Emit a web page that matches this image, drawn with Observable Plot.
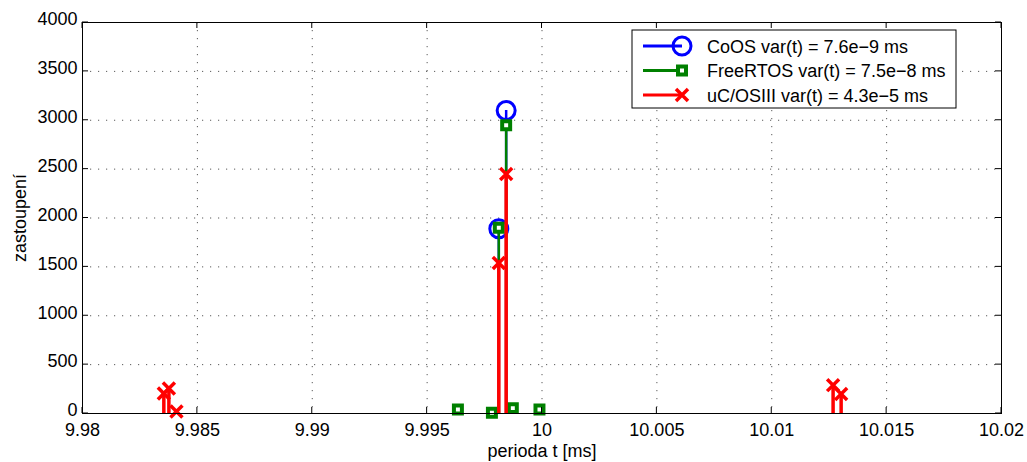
<!DOCTYPE html>
<html><head><meta charset="utf-8">
<script src="https://cdn.jsdelivr.net/npm/d3@7"></script>
<script src="https://cdn.jsdelivr.net/npm/@observablehq/plot@0.6"></script>
<style>
body{margin:0;background:#fff}
#chart svg{font-family:"Liberation Sans",Arial,Helvetica,sans-serif}
</style>
</head><body><div id="chart"></div>
<script>
// ---- data ----
const xTicks = [9.98, 9.985, 9.99, 9.995, 10, 10.005, 10.01, 10.015, 10.02];
const xTickLabels = ["9.98", "9.985", "9.99", "9.995", "10", "10.005", "10.01", "10.015", "10.02"];
const yTicks = [0, 500, 1000, 1500, 2000, 2500, 3000, 3500, 4000];

const coosPeriod = [9.99812, 9.99844];
const coosCount  = [1890, 3100];

const freePeriod = [9.99634, 9.99782, 9.99812, 9.99844, 9.99873, 9.99989];
const freeCount  = [40, 8, 1900, 2950, 55, 40];

const ucosPeriod = [9.98354, 9.98376, 9.98409, 9.99812, 9.99844, 10.01267, 10.01302];
const ucosCount  = [205, 255, 20, 1540, 2450, 290, 200];

const seriesNames = ["CoOS var(t) = 7.6e\u22129 ms", "FreeRTOS var(t) = 7.5e\u22128 ms", "uC/OSIII var(t) = 4.3e\u22125 ms"];
const xLabel = "perioda t [ms]";
const yLabel = "zastoupení";

// ---- styles ----
const BLUE = "#0000ff", GREEN = "#008000", RED = "#ff0000";
const FONT = '"Liberation Sans", Arial, Helvetica, sans-serif';
const FS = 18;

const toRows = (xs, ns) => xs.map((x, i) => ({x, n: ns[i]}));
const coos = toRows(coosPeriod, coosCount);
const free = toRows(freePeriod, freeCount);
const ucos = toRows(ucosPeriod, ucosCount);

const gridStyle = {stroke: "#000", strokeOpacity: 0.65, strokeDasharray: "1.2,6.8"};

const chart = Plot.plot({
  width: 1027, height: 462,
  marginLeft: 82, marginRight: 26, marginTop: 22, marginBottom: 49,
  style: {fontFamily: FONT, fontSize: FS + "px", color: "#000", background: "#fff", overflow: "visible"},
  x: {domain: [9.98, 10.02]},
  y: {domain: [0, 4000]},
  marks: [
    Plot.gridX(xTicks, gridStyle),
    Plot.gridY(yTicks, gridStyle),
    Plot.axisX(xTicks, {tickSize: 0, tickPadding: 10, tickFormat: d => xTickLabels[xTicks.indexOf(d)],
      label: xLabel, labelAnchor: "center", labelOffset: 43, labelArrow: "none"}),
    Plot.axisY(yTicks, {tickSize: 0, tickPadding: 5, dy: -3, tickFormat: d => String(d),
      label: yLabel, labelAnchor: "center", labelOffset: 69, labelArrow: "none"}),
    // CoOS
    Plot.ruleX(coos, {x: "x", y1: 0, y2: "n", stroke: BLUE, strokeWidth: 2.5}),
    Plot.dot(coos, {x: "x", y: "n", r: 9, stroke: BLUE, strokeWidth: 3, fill: "none"}),
    // FreeRTOS
    Plot.ruleX(free, {x: "x", y1: 0, y2: "n", stroke: GREEN, strokeWidth: 2.5}),
    Plot.dot(free, {x: "x", y: "n", symbol: "square", r: 4.5, stroke: GREEN, strokeWidth: 4, fill: "#fff"}),
    // uC/OSIII
    Plot.ruleX(ucos, {x: "x", y1: 0, y2: "n", stroke: RED, strokeWidth: 3.5}),
    Plot.dot(ucos, {x: "x", y: "n", symbol: "times", r: 5.5, stroke: RED, strokeWidth: 3.5}),
    Plot.frame({stroke: "#000", strokeWidth: 1})
  ]
});
document.getElementById("chart").appendChild(chart);

// inward tick marks on all four sides, placed with the chart's own scales
const svg = d3.select(chart);
const sx = chart.scale("x"), sy = chart.scale("y");
const [x0, x1] = sx.range, [y0, y1] = sy.range; // y0 bottom, y1 top
const T = 6;
const tg = svg.append("g").attr("stroke", "#000").attr("stroke-width", 1);
xTicks.forEach(v => {
  const px = sx.apply(v);
  tg.append("line").attr("x1", px).attr("x2", px).attr("y1", y0).attr("y2", y0 - T);
  tg.append("line").attr("x1", px).attr("x2", px).attr("y1", y1).attr("y2", y1 + T);
});
yTicks.forEach(v => {
  const py = sy.apply(v);
  tg.append("line").attr("x1", x0).attr("x2", x0 + T).attr("y1", py).attr("y2", py);
  tg.append("line").attr("x1", x1).attr("x2", x1 - T).attr("y1", py).attr("y2", py);
});

// legend (top right, inside the axes)
const lg = svg.append("g").attr("font-family", FONT).attr("font-size", FS).attr("text-anchor", "start");
lg.append("rect").attr("x", 632).attr("y", 30).attr("width", 324).attr("height", 78)
  .attr("fill", "#fff").attr("stroke", "#000").attr("stroke-width", 1);
const rowsY = [46, 70.5, 95];
const colors = [BLUE, GREEN, RED];
rowsY.forEach((cy, i) => {
  lg.append("line").attr("x1", 643).attr("x2", 682).attr("y1", cy).attr("y2", cy)
    .attr("stroke", colors[i]).attr("stroke-width", 3);
  if (i === 0) {
    lg.append("circle").attr("cx", 682).attr("cy", cy).attr("r", 9)
      .attr("fill", "none").attr("stroke", BLUE).attr("stroke-width", 3);
  } else if (i === 1) {
    lg.append("rect").attr("x", 678).attr("y", cy - 4).attr("width", 8).attr("height", 8)
      .attr("fill", "#fff").attr("stroke", GREEN).attr("stroke-width", 4);
  } else {
    lg.append("path").attr("d", `M${676},${cy - 6}L${688},${cy + 6}M${676},${cy + 6}L${688},${cy - 6}`)
      .attr("stroke", RED).attr("stroke-width", 3.5);
  }
  lg.append("text").attr("x", 707).attr("y", cy + 6.5).attr("fill", "#000").attr("text-anchor", "start").text(seriesNames[i]);
});
</script>
</body></html>
